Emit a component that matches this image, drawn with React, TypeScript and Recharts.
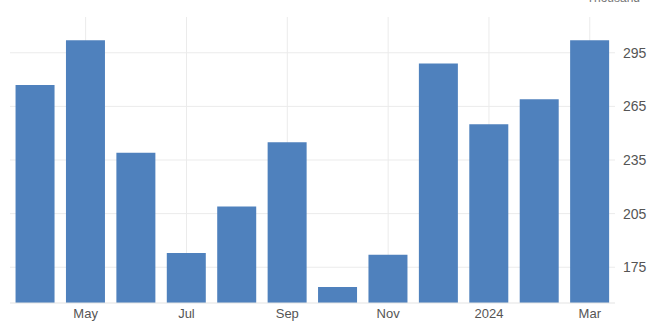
import { Bar, BarChart, CartesianGrid, ReferenceArea, XAxis, YAxis } from "recharts";

const months = ["Apr", "May", "Jun", "Jul", "Aug", "Sep", "Oct", "Nov", "Dec", "Jan", "Feb", "Mar"];
const values = [277, 302, 239, 183, 209, 245, 164, 182, 289, 255, 269, 302];
const xTicks = ["May", "Jul", "Sep", "Nov", "Jan", "Mar"];
const yTicks = [175, 205, 235, 265, 295];

const data = months.map((m, i) => ({ month: m, value: values[i] }));

const grey = "#555";

export default function App() {
  return (
    <div
      style={{
        position: "absolute",
        left: 0,
        top: 0,
        width: 647,
        height: 324,
        overflow: "hidden",
        fontFamily: "'Liberation Sans', Arial, sans-serif",
      }}
    >
      <div style={{ position: "absolute", right: 7, top: -9, fontSize: 12, color: "#777" }}>Thousand</div>
      <BarChart width={647} height={324} data={data} margin={{ top: 17, right: 0, left: 10, bottom: 0 }} barCategoryGap="11%">
        <CartesianGrid stroke="#ebebeb" syncWithTicks />
        <ReferenceArea fill="none" stroke="#ebebeb" />
        <XAxis
          dataKey="month"
          ticks={xTicks}
          interval={0}
          tickFormatter={(m: string) => (m === "Jan" ? "2024" : m)}
          tick={{ fontSize: 13, fill: grey }}
          tickLine={false}
          axisLine={{ stroke: "#e3e3e3" }}
          height={21}
          tickMargin={0}
        />
        <YAxis
          orientation="right"
          domain={[155, 315]}
          ticks={yTicks}
          allowDataOverflow
          tick={{ fontSize: 14, fill: grey }}
          tickLine={false}
          axisLine={false}
          width={32}
        />
        <Bar dataKey="value" fill="#4f81bd" isAnimationActive={false} />
      </BarChart>
    </div>
  );
}
